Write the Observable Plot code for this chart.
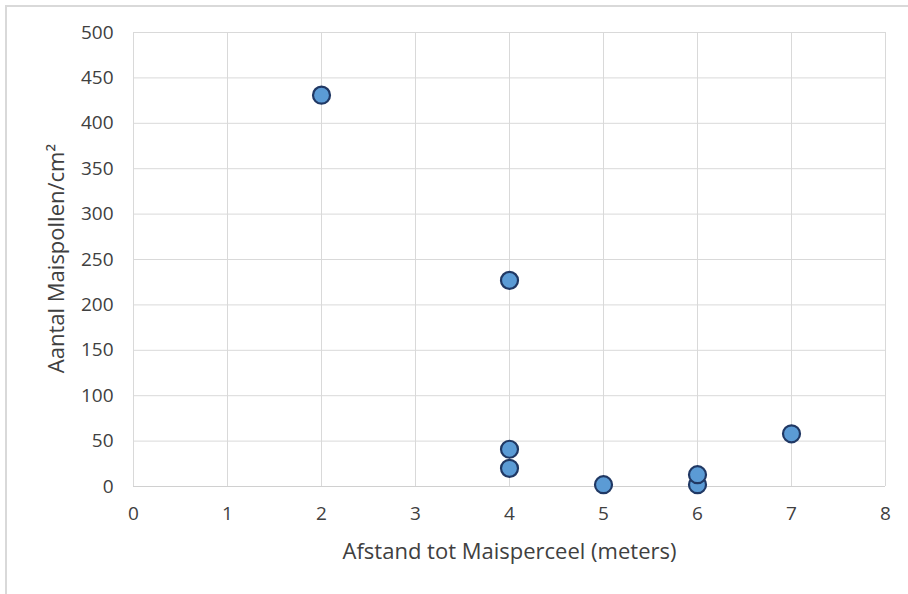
<!DOCTYPE html>
<html>
<head>
<meta charset="utf-8">
<script src="https://cdn.jsdelivr.net/npm/d3@7"></script>
<script src="https://cdn.jsdelivr.net/npm/@observablehq/plot@0.6"></script>
<style>
  html, body { margin: 0; padding: 0; background: #fff; overflow: hidden; }
  #frame { position: absolute; left: 5px; top: 5px; width: 920px; height: 610px; border: 2px solid #d9d9d9; box-sizing: border-box; }
  #chart { position: absolute; left: 0; top: 0; }
</style>
</head>
<body>
<div id="frame"></div>
<div id="chart"></div>
<script>
const afstand = [2, 4, 4, 4, 5, 6, 6, 7];
const pollen = [431, 227, 41, 20, 2, 2, 13, 58];
const xTicks = [0, 1, 2, 3, 4, 5, 6, 7, 8];
const yTicks = [0, 50, 100, 150, 200, 250, 300, 350, 400, 450, 500];

const data = afstand.map((x, i) => ({x, y: pollen[i]}));
const font = "Open Sans, Lato, sans-serif";

const chart = Plot.plot({
  width: 908,
  height: 594,
  marginLeft: 133,
  marginRight: 23,
  marginTop: 32,
  marginBottom: 108,
  style: {fontFamily: font, fontSize: "19px", color: "#404040", background: "transparent"},
  x: {domain: [0, 8], ticks: xTicks, label: null},
  y: {domain: [0, 500], ticks: yTicks, label: null},
  marks: [
    Plot.gridX(xTicks, {stroke: "#d9d9d9", strokeOpacity: 1, strokeWidth: 1}),
    Plot.gridY(yTicks, {stroke: "#d9d9d9", strokeOpacity: 1, strokeWidth: 1}),
    Plot.axisX(xTicks, {tickSize: 0, tickPadding: 20, fontSize: 19, fill: "#404040"}),
    Plot.axisY(yTicks, {tickSize: 0, tickPadding: 20, fontSize: 19, fill: "#404040"}),
    Plot.ruleY([0], {stroke: "#d0d0d0"}),
    Plot.dot(data, {x: "x", y: "y", r: 8.5, fill: "#5b9bd5", stroke: "#203864", strokeWidth: 2.2}),
    Plot.text(["Afstand tot Maisperceel (meters)"], {frameAnchor: "bottom", dy: 72, fontSize: 22, fill: "#404040"}),
    Plot.text(["Aantal Maispollen/cm²"], {frameAnchor: "left", textAnchor: "middle", dx: -77, dy: -1, rotate: -90, fontSize: 22, fill: "#404040"})
  ]
});
document.getElementById("chart").appendChild(chart);
</script>
</body>
</html>
